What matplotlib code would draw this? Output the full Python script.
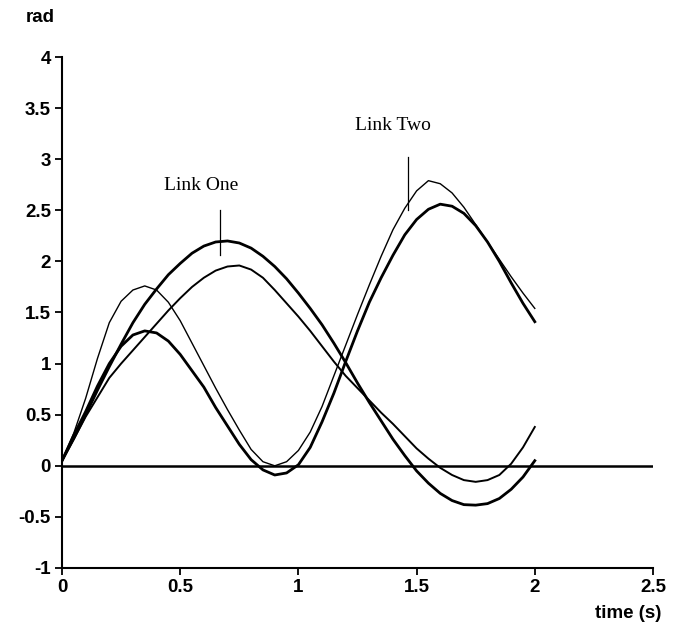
import matplotlib
matplotlib.use("Agg")
import matplotlib.pyplot as plt

time_s = [0.00, 0.05, 0.10, 0.15, 0.20, 0.25, 0.30, 0.35, 0.40, 0.45,
          0.50, 0.55, 0.60, 0.65, 0.70, 0.75, 0.80, 0.85, 0.90, 0.95,
          1.00, 1.05, 1.10, 1.15, 1.20, 1.25, 1.30, 1.35, 1.40, 1.45,
          1.50, 1.55, 1.60, 1.65, 1.70, 1.75, 1.80, 1.85, 1.90, 1.95, 2.00]

# Link One (thick and thin)
link_one_a = [0.05, 0.27, 0.50, 0.74, 0.97, 1.19, 1.40, 1.58, 1.73, 1.87,
              1.98, 2.08, 2.15, 2.19, 2.20, 2.18, 2.13, 2.05, 1.95, 1.83,
              1.69, 1.54, 1.38, 1.20, 1.01, 0.81, 0.62, 0.44, 0.26, 0.10,
              -0.05, -0.17, -0.27, -0.34, -0.38, -0.385, -0.37, -0.32, -0.23, -0.11, 0.05]
link_one_b = [0.05, 0.26, 0.48, 0.67, 0.86, 1.00, 1.13, 1.26, 1.39, 1.52,
              1.64, 1.75, 1.84, 1.91, 1.95, 1.96, 1.92, 1.84, 1.72, 1.59,
              1.46, 1.32, 1.17, 1.02, 0.88, 0.76, 0.64, 0.52, 0.41, 0.29,
              0.17, 0.07, -0.02, -0.09, -0.14, -0.157, -0.14, -0.09, 0.02, 0.18, 0.38]

# Link Two (thin and thick)
link_two_a = [0.05, 0.32, 0.66, 1.05, 1.40, 1.61, 1.72, 1.76, 1.72, 1.60,
              1.42, 1.20, 0.98, 0.76, 0.55, 0.35, 0.16, 0.04, 0.00, 0.04,
              0.15, 0.33, 0.58, 0.88, 1.18, 1.48, 1.77, 2.05, 2.31, 2.52,
              2.69, 2.79, 2.76, 2.67, 2.53, 2.36, 2.19, 2.02, 1.85, 1.69, 1.54]
link_two_b = [0.05, 0.30, 0.53, 0.78, 1.00, 1.17, 1.28, 1.32, 1.30, 1.22,
              1.09, 0.93, 0.77, 0.57, 0.39, 0.21, 0.06, -0.04, -0.09, -0.07,
              0.01, 0.18, 0.43, 0.71, 1.02, 1.32, 1.60, 1.84, 2.06, 2.26,
              2.41, 2.51, 2.56, 2.54, 2.47, 2.35, 2.19, 2.00, 1.79, 1.59, 1.41]

x_ticks = [0, 0.5, 1, 1.5, 2, 2.5]
x_tick_labels = ["0", "0.5", "1", "1.5", "2", "2.5"]
y_ticks = [-1, -0.5, 0, 0.5, 1, 1.5, 2, 2.5, 3, 3.5, 4]
y_tick_labels = ["-1", "-0.5", "0", "0.5", "1", "1.5", "2", "2.5", "3", "3.5", "4"]

annotations = [("Link One", 0.589, 2.74, 0.669, 2.50, 2.06),
               ("Link Two", 1.40, 3.33, 1.462, 3.02, 2.50)]

fig = plt.figure(figsize=(6.73, 6.34), dpi=100)
ax = fig.add_axes([62 / 673, 1 - 568 / 634, (653 - 62) / 673, (568 - 57) / 634])

ax.axhline(0, xmin=0, xmax=1, color="black", lw=1.8, zorder=1)

ax.plot(time_s, link_one_a, color="black", lw=2.0, solid_joinstyle="round")
ax.plot(time_s, link_one_b, color="black", lw=1.4, solid_joinstyle="round")
ax.plot(time_s, link_two_a, color="black", lw=1.0, solid_joinstyle="round")
ax.plot(time_s, link_two_b, color="black", lw=2.0, solid_joinstyle="round")

for label, tx, ty, lx, ly0, ly1 in annotations:
    ax.text(tx, ty, label, family="Liberation Serif", fontsize=14,
            ha="center", va="center")
    ax.plot([lx, lx], [ly0, ly1], color="black", lw=0.9)

ax.set_xlim(0, 2.5)
ax.set_ylim(-1, 4)
ax.set_xticks(x_ticks)
ax.set_xticklabels(x_tick_labels)
ax.set_yticks(y_ticks)
ax.set_yticklabels(y_tick_labels)

for s in ["top", "right"]:
    ax.spines[s].set_visible(False)
for s in ["left", "bottom"]:
    ax.spines[s].set_linewidth(1.5)

ax.tick_params(direction="out", length=5, width=1.3, pad=3)
for lab in ax.get_xticklabels() + ax.get_yticklabels():
    lab.set_family("Liberation Sans")
    lab.set_fontweight("bold")
    lab.set_fontsize(13.5)

fig.text(40 / 673, 1 - 18 / 634, "rad", family="Liberation Sans",
         fontweight="bold", fontsize=13.5, ha="center", va="center")
fig.text(628 / 673, 1 - 614 / 634, "time (s)", family="Liberation Sans",
         fontweight="bold", fontsize=13.5, ha="center", va="center")

fig.savefig("out.png", dpi=100)
